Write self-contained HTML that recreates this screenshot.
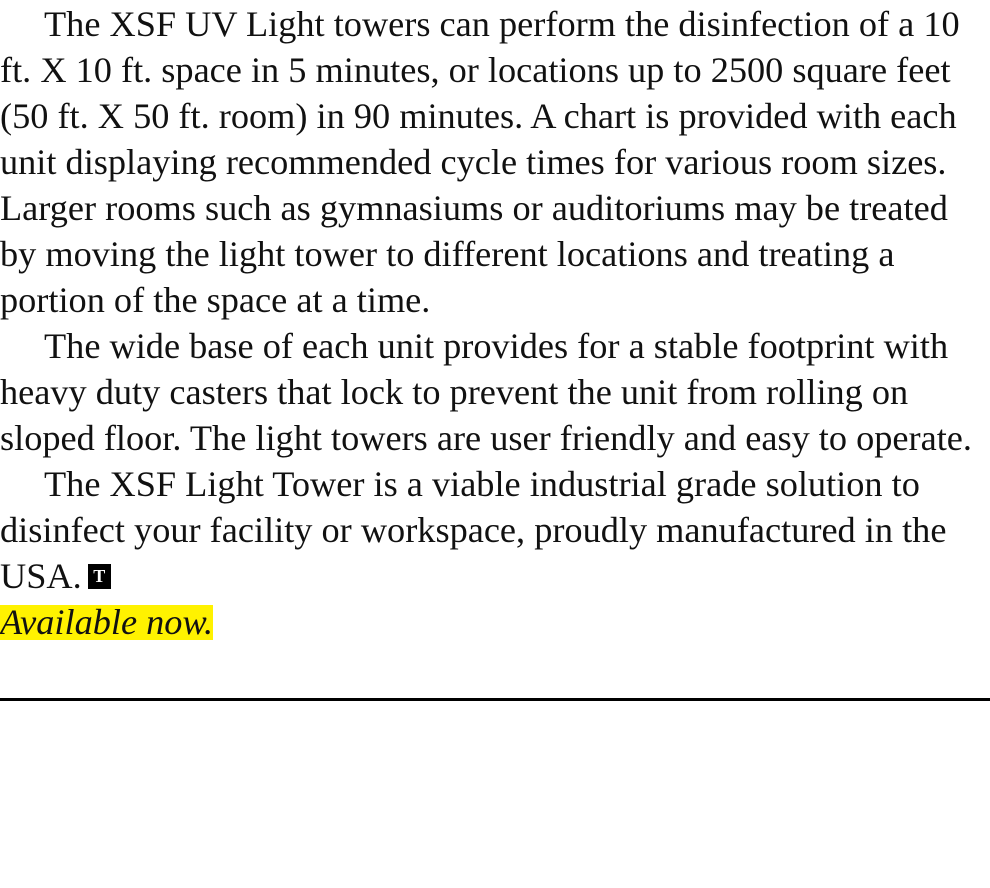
<!DOCTYPE html>
<html><head><meta charset="utf-8"><style>
html,body{margin:0;padding:0;background:#fff;width:990px;height:888px;overflow:hidden}
.t{position:absolute;left:0;top:1px;font-family:"Liberation Serif",serif;font-size:36.3px;line-height:46px;color:#111;white-space:nowrap}
.t div{height:46px}
.i{padding-left:44px}
.box{display:inline-block;width:23px;height:25px;background:#000;color:#fff;font-size:18px;line-height:25px;text-align:center;font-weight:bold;vertical-align:6px;margin-left:-3px}
.hl{background:#fff200;font-style:italic;display:inline-block;line-height:35px;padding-right:0px}
.rule{position:absolute;left:0;top:698px;width:990px;height:3px;background:#000}
</style></head><body>
<div class="t">
<div class="i">The XSF UV Light towers can perform the disinfection of a 10</div>
<div>ft. X 10 ft. space in 5 minutes, or locations up to 2500 square feet</div>
<div>(50 ft. X 50 ft. room) in 90 minutes. A chart is provided with each</div>
<div>unit displaying recommended cycle times for various room sizes.</div>
<div>Larger rooms such as gymnasiums or auditoriums may be treated</div>
<div>by moving the light tower to different locations and treating a</div>
<div>portion of the space at a time.</div>
<div class="i">The wide base of each unit provides for a stable footprint with</div>
<div>heavy duty casters that lock to prevent the unit from rolling on</div>
<div>sloped floor. The light towers are user friendly and easy to operate.</div>
<div class="i">The XSF Light Tower is a viable industrial grade solution to</div>
<div>disinfect your facility or workspace, proudly manufactured in the</div>
<div>USA. <span class="box">T</span></div>
<div><span class="hl">Available now.</span></div>
</div>
<div class="rule"></div>
</body></html>
